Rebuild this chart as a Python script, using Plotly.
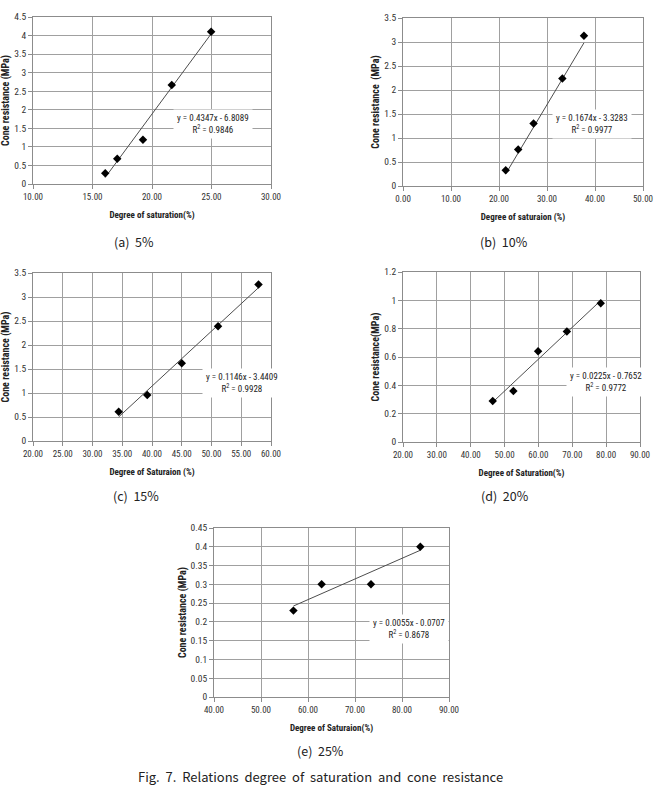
import plotly.graph_objects as go

W, H = 657, 789

# ---------------- data ----------------
sat_a = [16.07, 17.08, 19.24, 21.66, 24.97]
cr_a = [0.29, 0.68, 1.19, 2.67, 4.10]
fit_a = (0.4347, -6.8089, 0.9846)

sat_b = [21.4, 24.0, 27.2, 33.2, 37.7]
cr_b = [0.33, 0.76, 1.30, 2.24, 3.13]
fit_b = (0.1674, -3.3283, 0.9977)

sat_c = [34.4, 39.2, 45.0, 51.1, 57.9]
cr_c = [0.61, 0.96, 1.62, 2.39, 3.26]
fit_c = (0.1146, -3.4409, 0.9928)

sat_d = [46.5, 52.6, 59.9, 68.4, 78.4]
cr_d = [0.29, 0.36, 0.64, 0.78, 0.98]
fit_d = (0.0225, -0.7652, 0.9772)

sat_e = [56.9, 62.9, 73.4, 83.9]
cr_e = [0.23, 0.30, 0.30, 0.40]
fit_e = (0.0055, -0.0707, 0.8678)

x_titles = ["Degree of saturation(%)", "Degree of saturaion (%)", "Degree of Saturaion (%)",
            "Degree of Saturation(%)", "Degree of Saturaion(%)"]
y_titles = ["Cone resistance (MPa)", "Cone resistance  (MPa)", "Cone resistance (MPa)",
            "Cone resistance(MPa)", "Cone resistance (MPa)"]
captions = ["(a)&nbsp; 5%", "(b)&nbsp; 10%", "(c)&nbsp; 15%", "(d)&nbsp; 20%", "(e)&nbsp; 25%"]
fig_caption = "Fig. 7. Relations degree of saturation and cone resistance"

x_ranges = [(10, 30, 5), (0, 50, 10), (20, 60, 5), (20, 90, 10), (40, 90, 10)]
y_ranges = [(0, 4.5, 0.5), (0, 3.5, 0.5), (0, 3.5, 0.5), (0, 1.2, 0.2), (0, 0.45, 0.05)]

# ---------------- layout (pixels) ----------------
boxes = [(33, 271, 17, 184), (403, 643, 18, 186), (33, 271, 273, 441),
         (403, 640, 272, 442), (214, 449, 528, 697)]
eq_pos = [(213, 124), (592, 124), (242, 383), (606, 382), (409, 629)]
cap_pos = [(134, 241), (504, 241), (136, 495), (505, 495), (320, 750)]

FONT = "Liberation Sans Narrow, Roboto Condensed, DejaVu Sans Condensed, Liberation Sans, sans-serif"
CAPFONT = "Noto Sans CJK KR, Liberation Sans, sans-serif"


def px(x):
    return x / W


def py(y):
    return 1 - y / H


fig = go.Figure()
series = [(sat_a, cr_a, fit_a), (sat_b, cr_b, fit_b), (sat_c, cr_c, fit_c),
          (sat_d, cr_d, fit_d), (sat_e, cr_e, fit_e)]

layout = dict(width=W, height=H, margin=dict(l=0, r=0, t=0, b=0, autoexpand=False),
              plot_bgcolor="white", paper_bgcolor="white", showlegend=False,
              font=dict(family=FONT, size=9, color="#222"))
annotations = []

for i, (xs, ys, (m, b, r2)) in enumerate(series):
    n = i + 1
    xa = "x" if n == 1 else f"x{n}"
    ya = "y" if n == 1 else f"y{n}"
    l, r, t, bt = boxes[i]
    x0, x1, dx = x_ranges[i]
    y0, y1, dy = y_ranges[i]
    layout["xaxis" if n == 1 else f"xaxis{n}"] = dict(
        domain=[px(l), px(r)], range=[x0, x1], dtick=dx, tick0=x0, tickformat=".2f",
        anchor=ya, showgrid=True, gridcolor="#a0a0a0", gridwidth=1, automargin=False,
        showline=True, linecolor="#8c8c8c", mirror=True, ticks="outside", ticklen=4,
        tickcolor="#8c8c8c", zeroline=False, tickfont=dict(size=9, color="#333"),
        title=dict(text=f"<b>{x_titles[i]}</b>", font=dict(size=9, color="#222"), standoff=10))
    layout["yaxis" if n == 1 else f"yaxis{n}"] = dict(
        domain=[py(bt), py(t)], range=[y0, y1], dtick=dy, tick0=y0, tickformat="~g",
        anchor=xa, showgrid=True, gridcolor="#a0a0a0", gridwidth=1, automargin=False,
        showline=True, linecolor="#8c8c8c", mirror=True, ticks="outside", ticklen=4,
        tickcolor="#8c8c8c", zeroline=False, tickfont=dict(size=9.5, color="#333"),
        title=dict(text=f"<b>{y_titles[i]}</b>", font=dict(size=10, color="#222"), standoff=2))

    xmin, xmax = min(xs), max(xs)
    fig.add_trace(go.Scatter(x=[xmin, xmax], y=[m * xmin + b, m * xmax + b], mode="lines",
                             line=dict(color="#4d4d4d", width=1), xaxis=xa, yaxis=ya,
                             hoverinfo="skip"))
    fig.add_trace(go.Scatter(x=xs, y=ys, mode="markers",
                             marker=dict(symbol="diamond", size=6.5, color="black"),
                             xaxis=xa, yaxis=ya))

    sign = "-" if b < 0 else "+"
    eq = f"y = {m:.4f}x {sign} {abs(b):.4f}<br>R<sup>2</sup> = {r2:.4f}"
    ex, ey = eq_pos[i]
    annotations.append(dict(text=eq, x=px(ex), y=py(ey), xref="paper", yref="paper",
                            xanchor="center", yanchor="middle",
                            showarrow=False, align="center", bgcolor="white",
                            borderpad=3, font=dict(size=9, color="#222", family=FONT)))
    cx, cy = cap_pos[i]
    annotations.append(dict(text=captions[i], x=px(cx), y=py(cy), xref="paper", yref="paper",
                            xanchor="center", yanchor="middle",
                            showarrow=False, font=dict(size=12.5, color="#222", family=CAPFONT)))

annotations.append(dict(text=fig_caption.replace(" ", "&nbsp; "), x=px(320), y=py(776),
                        xref="paper", yref="paper", xanchor="center", yanchor="middle",
                        showarrow=False, font=dict(size=13, color="#222", family=CAPFONT)))
layout["annotations"] = annotations
fig.update_layout(**layout)
fig.write_html("out.html")
